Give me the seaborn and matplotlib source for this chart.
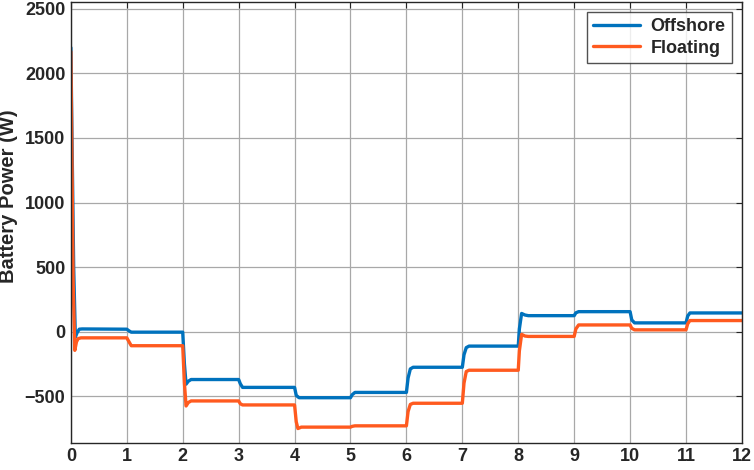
import numpy as np
import pandas as pd
import matplotlib
matplotlib.use('Agg')
import matplotlib.pyplot as plt
import seaborn as sns

# breakpoints (time, battery power in W)
t_off = [0.0, 0.02, 0.05, 0.08, 0.11, 0.15, 0.20, 1.00, 1.04, 1.08, 2.00, 2.03, 2.06, 2.10, 2.15,
         3.00, 3.03, 3.07, 4.00, 4.03, 4.08, 5.00, 5.03, 5.08, 6.00, 6.03, 6.07, 6.12, 7.00, 7.03,
         7.07, 7.12, 8.00, 8.02, 8.06, 8.12, 8.18, 9.00, 9.03, 9.08, 10.00, 10.03, 10.08, 11.00,
         11.03, 11.07, 12.00]
p_off = [2200, 1500, 500, -44, -10, 18, 20, 18, 5, -5, -5, -250, -408, -385, -372,
         -372, -405, -433, -433, -495, -513, -513, -490, -472, -472, -360, -290, -277, -277, -180,
         -125, -113, -113, 20, 140, 128, 123, 123, 145, 154, 154, 90, 67, 67,
         120, 144, 144]

t_flt = [0.0, 0.02, 0.04, 0.07, 0.10, 0.13, 0.18, 1.00, 1.04, 1.08, 2.00, 2.03, 2.06, 2.10, 2.15,
         3.00, 3.03, 3.07, 4.00, 4.03, 4.06, 4.12, 5.00, 5.03, 5.08, 6.00, 6.03, 6.07, 6.12, 7.00,
         7.03, 7.07, 7.12, 8.00, 8.02, 8.06, 8.12, 8.18, 9.00, 9.03, 9.08, 10.00, 10.03, 10.08,
         11.00, 11.03, 11.07, 12.00]
p_flt = [2170, 1300, 400, -146, -80, -55, -49, -49, -80, -110, -110, -400, -577, -550, -538,
         -538, -560, -569, -569, -700, -752, -741, -741, -735, -731, -731, -620, -565, -556, -556,
         -400, -310, -300, -300, -150, -22, -35, -38, -38, 20, 51, 51, 25, 13,
         13, 60, 85, 85]

labels = ['Offshore', 'Floating']
colors = ['#0072BD', '#FF5A1F']

df = pd.concat([
    pd.DataFrame({'t': t_off, 'p': p_off, 'series': labels[0]}),
    pd.DataFrame({'t': t_flt, 'p': p_flt, 'series': labels[1]}),
])

sns.set_style('white')
plt.rcParams['font.family'] = ['Liberation Sans', 'DejaVu Sans']
plt.rcParams['font.weight'] = 'bold'

fig = plt.figure(figsize=(7.54, 4.70), dpi=100)
ax = fig.add_axes([0.094, 0.058, 0.89, 0.938])

sns.lineplot(data=df, x='t', y='p', hue='series', palette=colors, estimator=None,
             sort=False, linewidth=2.4, ax=ax)

ax.set_xlim(0, 12)
ax.set_ylim(-862, 2555)
ax.set_xticks(range(0, 13))
ax.set_yticks([-500, 0, 500, 1000, 1500, 2000, 2500])
ax.grid(True, color='#A8A8A8', linewidth=0.9)
ax.set_axisbelow(True)
ax.tick_params(direction='in', top=True, right=True, length=4, labelsize=13,
               color='#262626', pad=4)
for lab in ax.get_xticklabels() + ax.get_yticklabels():
    lab.set_fontweight('bold')
for s in ax.spines.values():
    s.set_color('#262626')
    s.set_linewidth(1.0)

ax.set_xlabel('')
ax.set_ylabel('Battery Power (W)', fontsize=14.5, fontweight='bold')
ax.yaxis.set_label_coords(-0.079, 0.56)

leg = ax.legend(loc='upper right', frameon=True, fancybox=False,
                edgecolor='#262626', handlelength=2.6, handletextpad=0.6,
                borderaxespad=0.55, borderpad=0.35, labelspacing=0.25,
                prop={'weight': 'bold', 'size': 13})
leg.get_frame().set_linewidth(1.0)
for line in leg.get_lines():
    line.set_linewidth(2.4)

fig.savefig('out.png', dpi=100)
